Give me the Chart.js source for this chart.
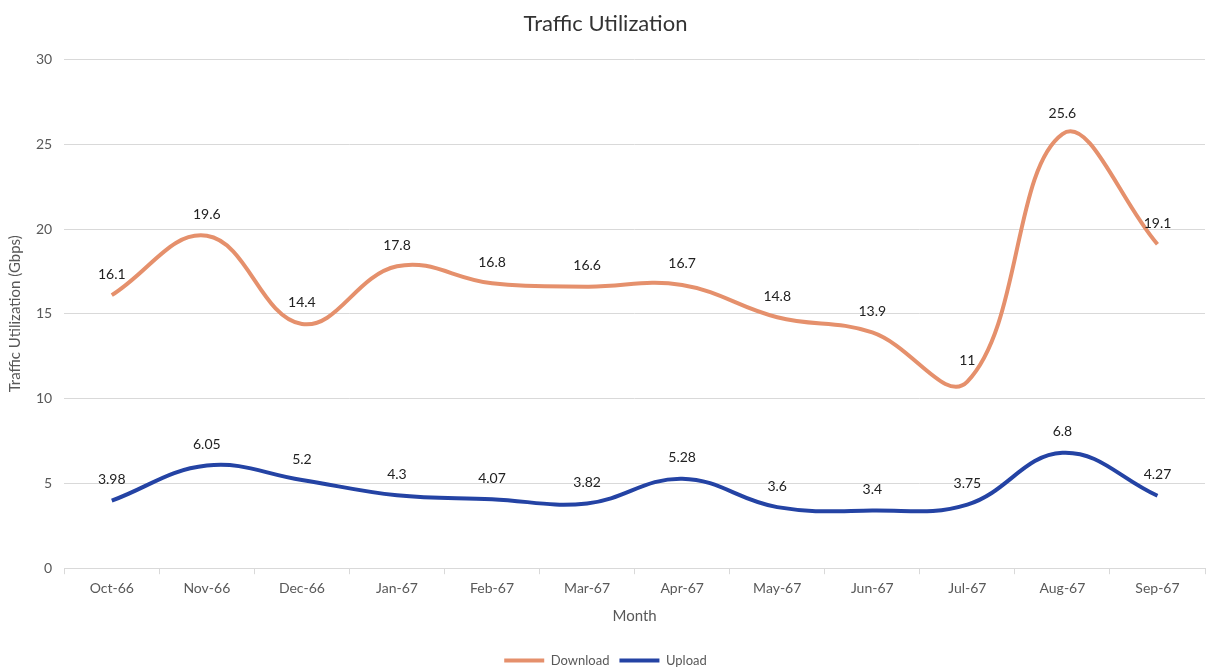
<!DOCTYPE html>
<html lang="en">
<head>
    <meta charset="UTF-8">
    <title>Traffic Utilization</title>
    <script src="https://cdn.jsdelivr.net/npm/chart.js"></script>
    <style>
        html, body { margin: 0; padding: 0; background: #fff; }
        #wrap { width: 1209px; height: 670px; }
    </style>
</head>
<body>
    <div id="wrap"><canvas id="myChart"></canvas></div>
    <script>
        // chart data
        const months = ['Oct-66', 'Nov-66', 'Dec-66', 'Jan-67', 'Feb-67', 'Mar-67',
                        'Apr-67', 'May-67', 'Jun-67', 'Jul-67', 'Aug-67', 'Sep-67'];
        const download = [16.1, 19.6, 14.4, 17.8, 16.8, 16.6, 16.7, 14.8, 13.9, 11, 25.6, 19.1];
        const upload = [3.98, 6.05, 5.2, 4.3, 4.07, 3.82, 5.28, 3.6, 3.4, 3.75, 6.8, 4.27];

        const FONT = 'Lato, "Open Sans", sans-serif';
        const textGrey = '#595959';

        // draw value labels above each point (no datalabels plugin available)
        const valueLabels = {
            id: 'valueLabels',
            afterDatasetsDraw(chart) {
                const ctx = chart.ctx;
                ctx.save();
                ctx.font = '14px ' + FONT;
                ctx.fillStyle = '#222';
                ctx.textAlign = 'center';
                ctx.textBaseline = 'middle';
                chart.data.datasets.forEach((ds, i) => {
                    const meta = chart.getDatasetMeta(i);
                    meta.data.forEach((pt, j) => {
                        ctx.fillText(String(ds.data[j]), pt.x, pt.y - 21);
                    });
                });
                ctx.restore();
            }
        };

        const ctx = document.getElementById('myChart').getContext('2d');
        const myChart = new Chart(ctx, {
            type: 'line',
            data: {
                labels: months,
                datasets: [{
                    label: 'Download',
                    data: download,
                    borderColor: '#E5906C',
                    backgroundColor: '#E5906C',
                    borderWidth: 4,
                    pointRadius: 0,
                    tension: 0.4
                }, {
                    label: 'Upload',
                    data: upload,
                    borderColor: '#2443A4',
                    backgroundColor: '#2443A4',
                    borderWidth: 4,
                    pointRadius: 0,
                    tension: 0.4
                }]
            },
            options: {
                responsive: true,
                maintainAspectRatio: false,
                animation: false,
                layout: { padding: { left: 6, right: 4, top: 5, bottom: -7 } },
                plugins: {
                    title: {
                        display: true,
                        text: 'Traffic Utilization',
                        color: '#333',
                        font: { family: FONT, size: 22, weight: 'normal' },
                        padding: { top: 6, bottom: 22 }
                    },
                    legend: {
                        position: 'bottom',
                        labels: {
                            color: textGrey,
                            font: { family: FONT, size: 13 },
                            boxWidth: 40,
                            boxHeight: 4,
                            padding: 10,
                            generateLabels(chart) {
                                return chart.data.datasets.map((ds, i) => ({
                                    text: ds.label,
                                    fillStyle: ds.borderColor,
                                    strokeStyle: ds.borderColor,
                                    lineWidth: 0,
                                    fontColor: textGrey,
                                    datasetIndex: i
                                }));
                            }
                        }
                    },
                    tooltip: { enabled: false }
                },
                scales: {
                    x: {
                        offset: true,
                        grid: {
                            display: true,
                            drawOnChartArea: false,
                            offset: true,
                            tickLength: 6,
                            color: '#d9d9d9'
                        },
                        border: { color: '#d9d9d9' },
                        ticks: {
                            color: textGrey,
                            font: { family: FONT, size: 14 },
                            padding: 6
                        },
                        title: {
                            display: true,
                            text: 'Month',
                            color: textGrey,
                            font: { family: FONT, size: 15 },
                            padding: { top: 4, bottom: 19 }
                        }
                    },
                    y: {
                        min: 0,
                        max: 30,
                        ticks: {
                            stepSize: 5,
                            color: textGrey,
                            font: { family: FONT, size: 14 },
                            padding: 12
                        },
                        grid: {
                            color: '#d9d9d9',
                            drawTicks: false
                        },
                        border: { display: false },
                        title: {
                            display: true,
                            text: 'Traffic Utilization (Gbps)',
                            color: textGrey,
                            font: { family: FONT, size: 15 },
                            padding: { top: 0, bottom: 0 }
                        }
                    }
                }
            },
            plugins: [valueLabels]
        });
    </script>
</body>
</html>
